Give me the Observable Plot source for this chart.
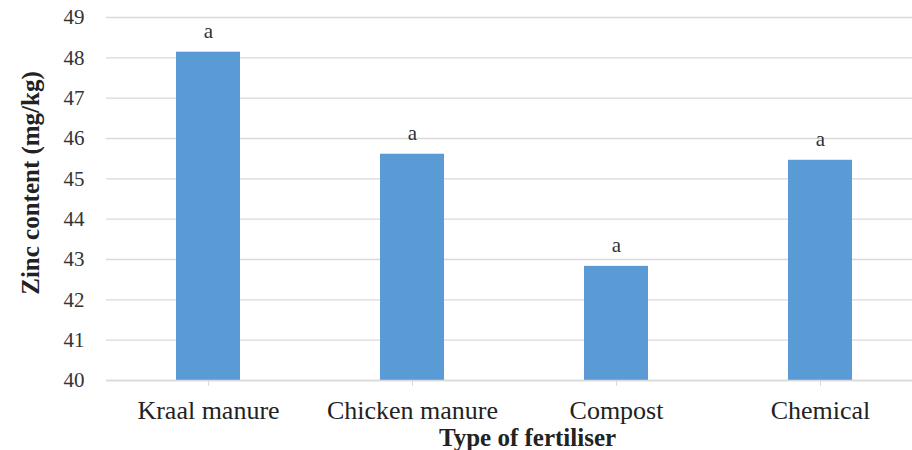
<!DOCTYPE html>
<html>
<head>
<meta charset="utf-8">
<script src="https://cdn.jsdelivr.net/npm/d3@7"></script>
<script src="https://cdn.jsdelivr.net/npm/@observablehq/plot@0.6"></script>
<style>
  html, body { margin: 0; padding: 0; background: #fff; overflow: hidden; width: 912px; height: 450px; }
  #chart svg { max-width: none; display: block; }
  #chart svg, #chart svg text { font-family: 'Liberation Serif', 'Times New Roman', serif; }
</style>
</head>
<body>
<div id="chart"></div>
<script>
const categories = ["Kraal manure", "Chicken manure", "Compost", "Chemical"];
const zinc = [48.14, 45.61, 42.83, 45.46];
const letters = ["a", "a", "a", "a"];
const yTicks = [40, 41, 42, 43, 44, 45, 46, 47, 48, 49];
const yTitle = "Zinc content (mg/kg)";
const xTitle = "Type of fertiliser";

const data = categories.map((c, i) => ({ category: c, value: zinc[i], letter: letters[i] }));
const serif = "'Liberation Serif', 'Times New Roman', serif";

const chart = Plot.plot({
  width: 922,
  height: 450,
  marginLeft: 106,
  marginRight: 0,
  marginTop: 17,
  marginBottom: 70,
  style: "font-family: 'Liberation Serif', 'Times New Roman', serif; background: #fff; overflow: hidden;",
  x: { domain: categories, paddingInner: 0.686, paddingOuter: 0.343, label: null },
  y: { domain: [40, 49], label: null },
  marks: [
    Plot.gridY(yTicks, { stroke: "#d9d9d9", strokeOpacity: 1, strokeWidth: 1.3 }),
    Plot.barY(data, { x: "category", y1: 40, y2: "value", fill: "#5b9bd5" }),
    Plot.ruleY([40], { stroke: "#d9d9d9", strokeWidth: 1.5 }),
    Plot.ruleX([0], { x: () => null, frameAnchor: "left", y1: 40, y2: 49, stroke: "#c6dbf0", strokeWidth: 1.5 }),
    Plot.text(data, { x: "category", y: "value", text: "letter", dy: -21, fontSize: 21, fontFamily: serif, fill: "#333", lineAnchor: "middle" }),
    Plot.axisY(yTicks, { tickSize: 0, tickPadding: 22, fontSize: 21, fontFamily: serif, fill: "#333", label: null }),
    Plot.axisX({ tickSize: 6, tickPadding: 14, stroke: "#d9d9d9", fill: "#222", fontSize: 26, fontFamily: serif, label: null }),
    Plot.text([yTitle], { frameAnchor: "left", rotate: -90, dx: -76, dy: -16, fontSize: 25, fontFamily: serif, fontWeight: "bold", fill: "#222", lineAnchor: "middle", textAnchor: "middle" }),
    Plot.text([xTitle], { frameAnchor: "bottom", dx: 13, dy: 57, fontSize: 25, fontFamily: serif, fontWeight: "bold", fill: "#222", lineAnchor: "middle" })
  ]
});
document.getElementById("chart").appendChild(chart);
</script>
</body>
</html>
